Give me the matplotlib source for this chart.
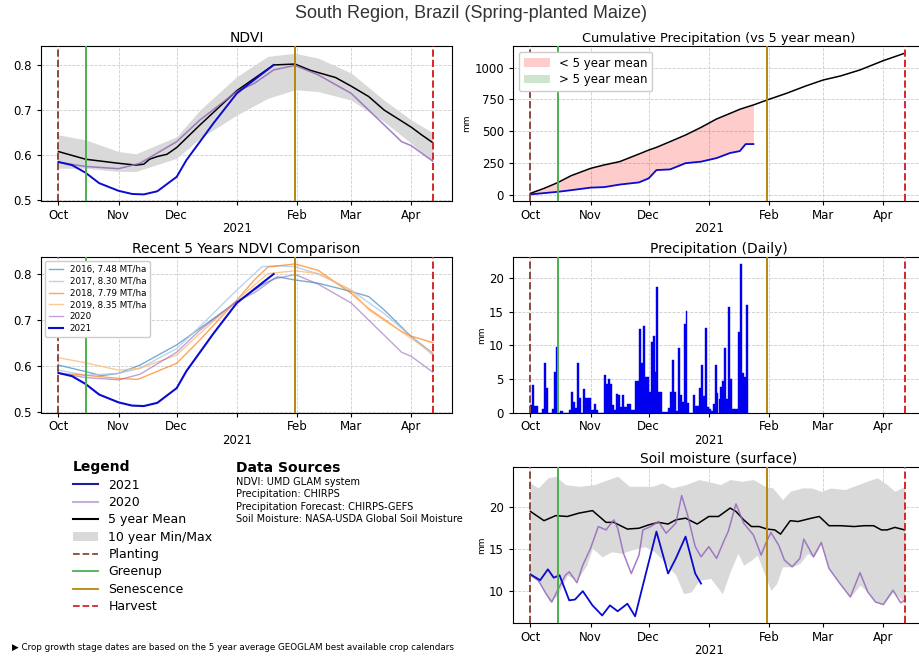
import matplotlib
matplotlib.use('Agg')
import matplotlib.pyplot as plt
from matplotlib.lines import Line2D
from matplotlib.patches import Patch
from datetime import datetime, timedelta

# ---------------- data (day offsets from 2020-10-01) ----------------
BASE = datetime(2020, 10, 1)

planting = datetime(2020, 10, 1)
greenup = datetime(2020, 10, 15)
senescence = datetime(2021, 1, 31)
harvest = datetime(2021, 4, 12)
x_start = datetime(2020, 9, 22)
x_end = datetime(2021, 4, 22)

month_ticks = [datetime(2020, 10, 1), datetime(2020, 11, 1), datetime(2020, 12, 1),
               datetime(2021, 1, 1), datetime(2021, 2, 1), datetime(2021, 3, 1),
               datetime(2021, 4, 1)]
month_labels = ['Oct', 'Nov', 'Dec', '\n2021', 'Feb', 'Mar', 'Apr']

# NDVI
ndvi_mean_days = [0, 14, 31, 40, 44, 47, 51, 56, 61, 73, 92, 101, 111, 122, 130, 143, 151, 160, 168, 182, 187, 193]
ndvi_mean = [0.608, 0.591, 0.582, 0.578, 0.580, 0.591, 0.597, 0.602, 0.617, 0.667, 0.743, 0.770, 0.800,
             0.802, 0.788, 0.772, 0.753, 0.730, 0.700, 0.662, 0.646, 0.628]
ndvi_2021_days = [0, 7, 14, 21, 31, 38, 44, 51, 56, 61, 66, 73, 80, 92, 101, 111]
ndvi_2021 = [0.585, 0.578, 0.561, 0.538, 0.521, 0.514, 0.513, 0.520, 0.536, 0.552, 0.589, 0.630,
             0.671, 0.737, 0.767, 0.800]
ndvi_2020_days = [0, 14, 31, 42, 61, 73, 92, 101, 111, 122, 134, 151, 160, 177, 182, 193]
ndvi_2020 = [0.584, 0.575, 0.570, 0.582, 0.630, 0.678, 0.741, 0.759, 0.789, 0.799, 0.778, 0.737,
             0.700, 0.630, 0.621, 0.587]
ndvi_band_days = [0, 14, 31, 40, 61, 73, 92, 108, 122, 134, 151, 168, 182, 193]
ndvi_upper = [0.645, 0.634, 0.608, 0.603, 0.641, 0.700, 0.774, 0.819, 0.826, 0.815, 0.782, 0.722, 0.678, 0.650]
ndvi_lower = [0.571, 0.571, 0.564, 0.564, 0.593, 0.637, 0.689, 0.726, 0.745, 0.741, 0.722, 0.674, 0.626, 0.586]

# Recent years NDVI
r2016_days = [0, 14, 22, 31, 42, 61, 73, 92, 105, 113, 122, 134, 151, 160, 168, 182, 193]
r2016 = [0.602, 0.588, 0.579, 0.584, 0.602, 0.646, 0.682, 0.740, 0.776, 0.794, 0.787, 0.780, 0.762,
         0.751, 0.722, 0.664, 0.628]
r2017_days = [0, 14, 31, 42, 61, 73, 92, 105, 113, 122, 134, 151, 168, 182, 193]
r2017 = [0.591, 0.580, 0.584, 0.595, 0.638, 0.686, 0.765, 0.816, 0.818, 0.816, 0.800, 0.765, 0.714, 0.664, 0.624]
r2018_days = [0, 14, 31, 41, 61, 73, 92, 101, 108, 122, 134, 151, 160, 177, 182, 193]
r2018 = [0.584, 0.580, 0.573, 0.571, 0.606, 0.657, 0.743, 0.787, 0.815, 0.822, 0.808, 0.758, 0.725,
         0.675, 0.665, 0.651]
r2019_days = [0, 14, 31, 42, 61, 73, 92, 108, 122, 134, 151, 160, 182, 193]
r2019 = [0.618, 0.607, 0.591, 0.595, 0.624, 0.671, 0.743, 0.801, 0.807, 0.801, 0.765, 0.722, 0.660, 0.628]
recent_labels = ['2016, 7.48 MT/ha', '2017, 8.30 MT/ha', '2018, 7.79 MT/ha', '2019, 8.35 MT/ha', '2020', '2021']

# Cumulative precipitation
cum_days = [0, 7, 14, 21, 31, 38, 46, 56, 61, 65, 72, 80, 88, 96, 103, 108, 111, 115,
            123, 132, 142, 151, 160, 170, 182, 193]
cum_mean = [13, 52, 97, 152, 209, 236, 262, 322, 353, 374, 419, 471, 531, 597, 641, 673, 688, 707,
            751, 798, 856, 903, 935, 982, 1055, 1113]
cum_2021 = [5, 15, 25, 38, 58, 62, 82, 99, 131, 196, 201, 250, 262, 290, 330, 345, 400, 400]

# Daily precipitation 2021 season (Oct 1 .. Jan 20)
daily_precip = [1.1, 4.1, 0.9, 0.9, 0, 0, 0.5, 7.3, 3.6, 0, 0, 0.5, 6.0, 9.8, 0, 0.2, 0.2, 0, 0, 0,
                0.3, 3.0, 1.5, 0.6, 7.4, 2.2, 0, 3.5, 2.2, 2.2, 2.2,
                0.3, 0.3, 1.2, 0.4, 0, 0, 0, 5.6, 4.3, 5.0, 4.3, 1.1, 0.3, 2.8, 2.6, 0.8, 2.6, 0.8, 0.8,
                1.3, 1.3, 0.3, 0.3, 4.7, 4.7, 12.4, 7.4, 12.8, 5.3, 5.3,
                3.1, 10.4, 11.3, 6.0, 18.7, 3.0, 3.0, 0.1, 0.1, 0.1, 0.7, 3.1, 7.8, 3.1, 0.2, 9.6, 2.6,
                1.6, 13.2, 15.1, 1.4, 0, 0, 2.6, 1.0, 1.0, 3.6, 7.0, 2.5, 12.5, 0.8,
                0.5, 0.2, 1.2, 7.1, 2.9, 2.0, 3.8, 4.7, 9.6, 2.0, 15.7, 5.0, 0.5, 0.5, 0.5, 12.0, 22.0,
                5.8, 5.3, 16.0]

# Soil moisture
sm_mean_days = [0, 7, 13, 19, 25, 32, 39, 43, 50, 56, 61, 66, 71, 75, 80, 86, 92, 97, 103, 106, 110,
                114, 118, 122, 126, 129, 134, 138, 145, 149, 154, 160, 167, 172, 177, 181, 184, 188, 193]
sm_mean = [19.5, 18.4, 19.0, 18.9, 19.3, 19.6, 18.2, 18.2, 17.4, 17.5, 17.9, 18.2, 18.0, 18.5, 18.7,
           18.0, 18.9, 18.9, 19.9, 19.5, 18.5, 17.7, 17.7, 17.4, 17.3, 16.8, 18.4, 18.3, 18.7, 18.9,
           17.8, 17.8, 17.7, 17.8, 17.8, 17.3, 17.3, 17.6, 17.3]
sm_2020_days = [0, 4, 8, 11, 14, 18, 20, 24, 27, 31, 35, 39, 43, 45, 48, 52, 56, 58, 62, 66, 70, 75,
                78, 81, 85, 88, 92, 96, 100, 102, 106, 110, 115, 119, 121, 124, 128, 131, 135, 139,
                141, 146, 150, 154, 159, 165, 170, 174, 178, 182, 187, 191, 193]
sm_2020 = [11.9, 11.3, 9.7, 8.7, 10.1, 11.9, 12.3, 11.0, 13.1, 15.1, 17.7, 17.3, 18.5, 17.5, 14.5,
           12.1, 14.3, 17.3, 17.7, 18.3, 16.9, 18.1, 21.4, 19.1, 15.3, 14.1, 15.3, 13.9, 16.1, 17.1,
           20.4, 18.1, 16.7, 14.3, 15.5, 17.0, 15.5, 13.7, 12.9, 13.9, 16.2, 14.1, 15.8, 12.7, 11.1,
           9.3, 12.2, 9.9, 8.7, 8.4, 10.1, 8.6, 8.9]
sm_2021_days = [0, 5, 9, 12, 15, 20, 23, 27, 32, 37, 41, 45, 50, 54, 58, 65, 71, 75, 80, 85, 88]
sm_2021 = [12.0, 11.3, 12.6, 11.6, 11.9, 8.9, 9.0, 10.0, 8.3, 7.1, 8.3, 7.6, 8.5, 7.0, 10.7, 17.1,
           12.1, 13.9, 16.5, 12.1, 10.9]
sm_upper_days = [0, 4, 9, 13, 18, 25, 33, 40, 45, 51, 56, 63, 68, 73, 80, 87, 93, 98, 103, 109, 115,
                 121, 125, 130, 134, 140, 145, 150, 155, 162, 169, 176, 179, 184, 188, 193]
sm_upper = [22.9, 22.3, 23.5, 23.7, 22.7, 22.5, 22.7, 23.3, 23.7, 22.5, 22.5, 22.5, 22.9, 22.3, 22.7,
            23.3, 23.0, 22.7, 23.3, 23.1, 23.3, 22.5, 22.3, 20.9, 21.9, 22.3, 22.3, 21.9, 22.3, 22.1,
            22.7, 23.3, 23.5, 22.7, 21.9, 22.5]
sm_lower_days = [0, 5, 10, 14, 19, 24, 29, 32, 37, 42, 47, 52, 59, 64, 69, 75, 79, 83, 87, 93, 99,
                 103, 107, 110, 114, 117, 121, 124, 127, 130, 135, 139, 143, 146, 150, 154, 159, 165,
                 170, 174, 178, 182, 187, 193]
sm_lower = [11.9, 10.9, 8.7, 9.5, 11.9, 11.3, 13.1, 15.1, 14.1, 14.7, 14.5, 14.9, 15.3, 14.7, 13.5,
            11.9, 9.7, 9.9, 11.3, 11.5, 9.7, 12.3, 14.5, 13.1, 13.7, 14.3, 11.9, 10.1, 10.9, 12.9,
            12.9, 13.3, 14.5, 14.0, 15.6, 12.7, 11.1, 9.3, 10.7, 9.9, 8.7, 8.4, 9.9, 8.7]

# ---------------- styles ----------------
C2021 = '#0a0ad0'
C2020 = '#9467bd'
C_PLANT = '#8c4a3c'
C_GREEN = '#4caf50'
C_SEN = '#b8860b'
C_HARV = '#d62728'
BAND = '#d9d9d9'


def to_dates(days):
    return [BASE + timedelta(days=float(d)) for d in days]


fig = plt.figure(figsize=(9.19, 6.57), dpi=100)
W = 919.0
H = 657.0


def add_ax(left, top, right, bottom):
    return fig.add_axes([left / W, 1 - bottom / H, (right - left) / W, (bottom - top) / H])


def style(ax, ylim):
    ax.set_xlim(x_start, x_end)
    ax.set_ylim(*ylim)
    ax.set_xticks(month_ticks)
    ax.set_xticklabels(month_labels)
    for lbl in ax.get_xticklabels():
        lbl.set_linespacing(1.05)
    ax.tick_params(labelsize=8.5, length=3)
    ax.tick_params(axis='x', pad=2.5)
    ax.grid(True, ls='--', color='#cccccc', lw=0.6)
    ax.set_axisbelow(True)
    ax.axvline(planting, color=C_PLANT, ls='--', lw=1.4, zorder=4)
    ax.axvline(greenup, color=C_GREEN, ls='-', lw=1.4, zorder=4)
    ax.axvline(senescence, color=C_SEN, ls='-', lw=1.4, zorder=4)
    ax.axvline(harvest, color=C_HARV, ls='--', lw=1.4, zorder=4)


fig.text(471 / W, 1 - 14 / H, 'South Region, Brazil (Spring-planted Maize)', ha='center', va='center',
         fontsize=13, color='#333333', family='Liberation Sans')

# NDVI
ax1 = add_ax(41, 46, 452, 201)
ax1.fill_between(to_dates(ndvi_band_days), ndvi_lower, ndvi_upper, color=BAND, lw=0, zorder=1)
ax1.plot(to_dates(ndvi_mean_days), ndvi_mean, color='black', lw=1.1, zorder=3)
ax1.plot(to_dates(ndvi_2020_days), ndvi_2020, color=C2020, lw=1.1, alpha=0.85, zorder=3)
ax1.plot(to_dates(ndvi_2021_days), ndvi_2021, color=C2021, lw=1.4, zorder=3)
style(ax1, (0.4984, 0.842))
ax1.set_yticks([0.5, 0.6, 0.7, 0.8])
ax1.set_title('NDVI', fontsize=10, pad=3)

# Recent 5 years
ax3 = add_ax(41, 257, 452, 412.5)
ax3.plot(to_dates(r2016_days), r2016, color='#1f77b4', lw=1.0, alpha=0.6, label=recent_labels[0])
ax3.plot(to_dates(r2017_days), r2017, color='#aec7e8', lw=1.0, alpha=0.8, label=recent_labels[1])
ax3.plot(to_dates(r2018_days), r2018, color='#ff7f0e', lw=1.0, alpha=0.7, label=recent_labels[2])
ax3.plot(to_dates(r2019_days), r2019, color='#ffbb78', lw=1.0, alpha=0.8, label=recent_labels[3])
ax3.plot(to_dates(ndvi_2020_days), ndvi_2020, color=C2020, lw=1.0, alpha=0.6, label=recent_labels[4])
ax3.plot(to_dates(ndvi_2021_days), ndvi_2021, color=C2021, lw=1.5, label=recent_labels[5])
style(ax3, (0.499, 0.837))
ax3.set_yticks([0.5, 0.6, 0.7, 0.8])
ax3.set_title('Recent 5 Years NDVI Comparison', fontsize=10, pad=3)
ax3.legend(loc='upper left', fontsize=6.3, labelspacing=0.33, handlelength=1.6, borderpad=0.4,
           framealpha=1.0, edgecolor='#cccccc')

# Cumulative precipitation
ax2 = add_ax(513, 46, 924, 201)
n = len(cum_2021)
cd = to_dates(cum_days)
ax2.fill_between(cd[:n], cum_mean[:n], cum_2021,
                 where=[b < m for b, m in zip(cum_2021, cum_mean[:n])],
                 color='red', alpha=0.2, lw=0)
ax2.fill_between(cd[:n], cum_mean[:n], cum_2021,
                 where=[b > m for b, m in zip(cum_2021, cum_mean[:n])],
                 color='green', alpha=0.2, lw=0)
ax2.plot(cd, cum_mean, color='black', lw=1.1, zorder=3)
ax2.plot(cd[:n], cum_2021, color=C2021, lw=1.3, zorder=3)
style(ax2, (-47, 1170))
ax2.set_yticks([0, 250, 500, 750, 1000])
ax2.set_ylabel('mm', fontsize=6.5, labelpad=2)
ax2.set_title('Cumulative Precipitation (vs 5 year mean)', fontsize=9.3, pad=3)
leg_handles = [Patch(color='red', alpha=0.2, lw=0), Patch(color='green', alpha=0.2, lw=0)]
ax2.legend(leg_handles, ['< 5 year mean', '> 5 year mean'], loc='upper left', fontsize=8.5,
           framealpha=1.0, edgecolor='#cccccc', borderpad=0.4, labelspacing=0.3, handlelength=2.2)

# Daily precipitation
ax4 = add_ax(513, 257, 924, 412.5)
daily_dates = [BASE + timedelta(days=i) for i in range(len(daily_precip))]
ax4.bar(daily_dates, daily_precip, width=1.0, color='#0000ee', edgecolor='#0000ee', lw=0.3,
        align='edge', zorder=2)
style(ax4, (0, 23.1))
ax4.set_yticks([0, 5, 10, 15, 20])
ax4.set_ylabel('mm', fontsize=6.5, labelpad=2)
ax4.set_title('Precipitation (Daily)', fontsize=10, pad=3)

# Soil moisture
ax6 = add_ax(513, 467, 924, 623)
ax6.fill_between(to_dates(sm_upper_days), 0, sm_upper, color=BAND, lw=0, zorder=1)
ax6.fill_between(to_dates(sm_lower_days), 0, sm_lower, color='white', lw=0, zorder=1.1)
ax6.plot(to_dates(sm_mean_days), sm_mean, color='black', lw=1.1, zorder=3)
ax6.plot(to_dates(sm_2020_days), sm_2020, color=C2020, lw=1.1, alpha=0.85, zorder=3)
ax6.plot(to_dates(sm_2021_days), sm_2021, color=C2021, lw=1.3, zorder=3)
style(ax6, (6.2, 24.8))
ax6.set_yticks([10, 15, 20])
ax6.set_ylabel('mm', fontsize=6.5, labelpad=2)
ax6.set_title('Soil moisture (surface)', fontsize=10, pad=3)
ax6.grid(True, ls='--', color='#cccccc', lw=0.6, zorder=1.2)

# Bottom-left legend
handles = [
    Line2D([], [], color='#1f1f9e', lw=1.5),
    Line2D([], [], color='#c5b0d5', lw=1.5),
    Line2D([], [], color='black', lw=1.5),
    Patch(color=BAND, lw=0),
    Line2D([], [], color=C_PLANT, lw=1.3, ls='--'),
    Line2D([], [], color=C_GREEN, lw=1.3),
    Line2D([], [], color=C_SEN, lw=1.3),
    Line2D([], [], color=C_HARV, lw=1.3, ls='--'),
]
labels = ['2021', '2020', '5 year Mean', '10 year Min/Max', 'Planting', 'Greenup', 'Senescence', 'Harvest']
fig.legend(handles, labels, loc='upper left', bbox_to_anchor=(62 / W, 1 - 449 / H), frameon=False,
           fontsize=9, title='Legend', title_fontproperties={'weight': 'bold', 'size': 10},
           alignment='left', handlelength=2.0, labelspacing=0.35, handletextpad=0.8)

fig.text(236 / W, 1 - 468 / H, 'Data Sources', fontsize=10, weight='bold', va='center')
sources = ['NDVI: UMD GLAM system', 'Precipitation: CHIRPS', 'Precipitation Forecast: CHIRPS-GEFS',
           'Soil Moisture: NASA-USDA Global Soil Moisture']
for i, s in enumerate(sources):
    fig.text(236 / W, 1 - (482 + i * 12.4) / H, s, fontsize=7, va='center')

fig.text(12 / W, 1 - 647 / H,
         '\u25b6 Crop growth stage dates are based on the 5 year average GEOGLAM best available crop calendars',
         fontsize=6.3, va='center')

fig.savefig('out.png', dpi=100)
